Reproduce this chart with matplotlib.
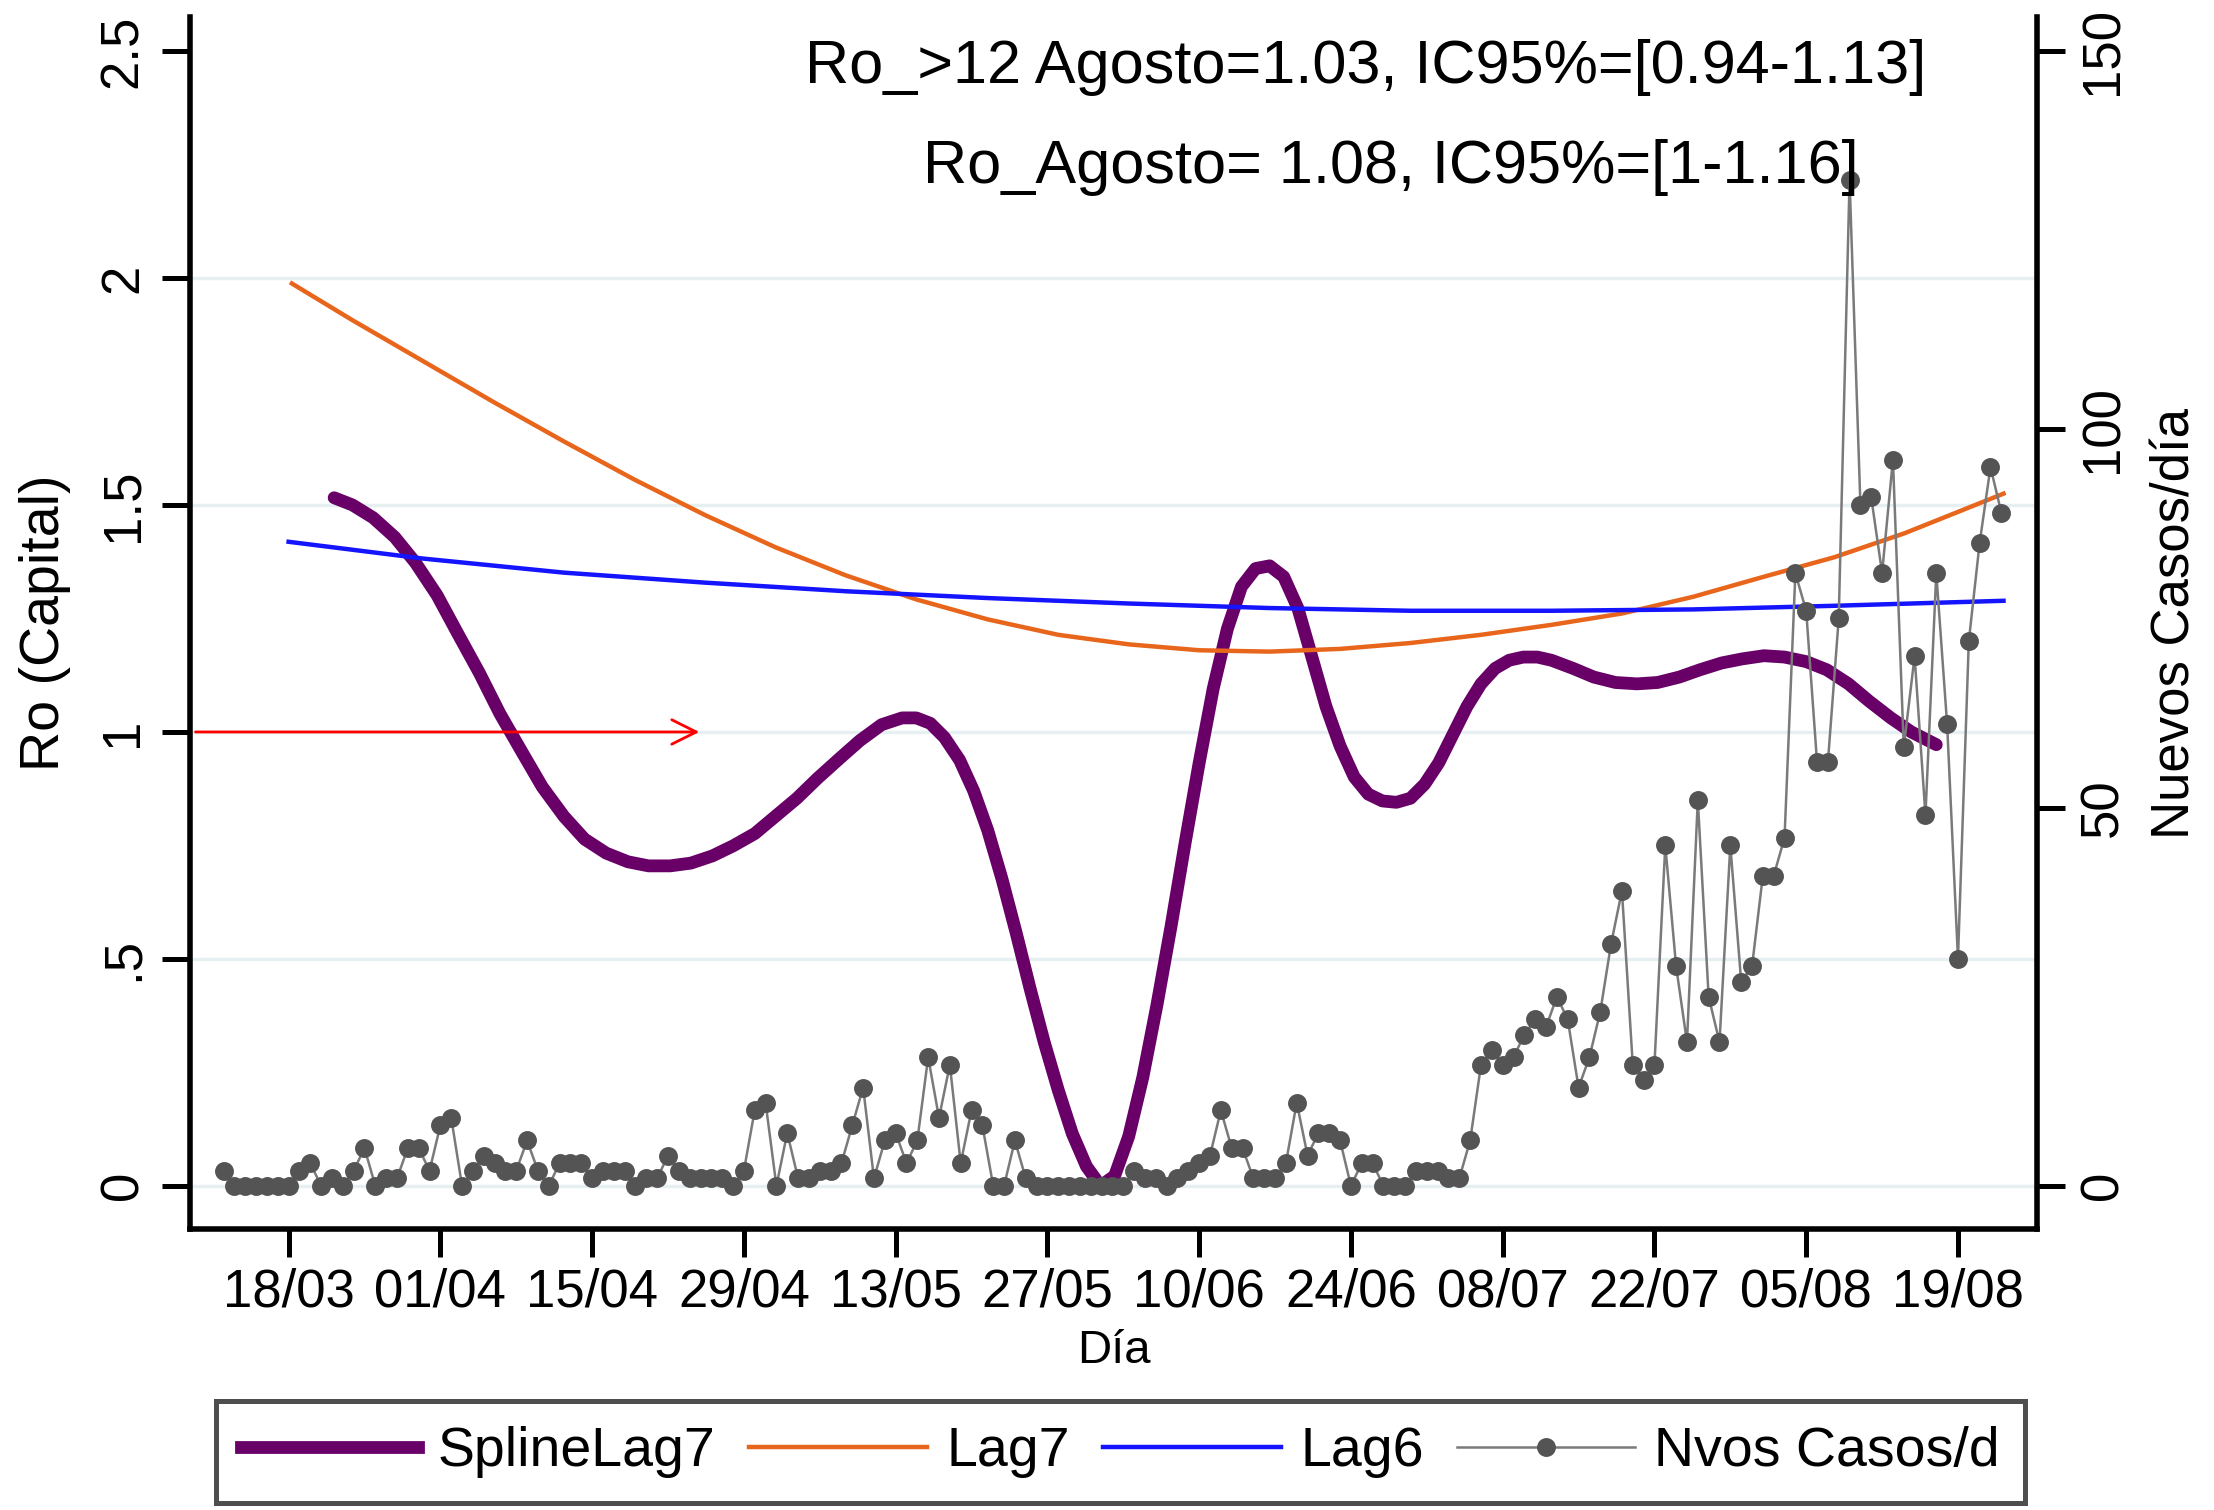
import matplotlib
matplotlib.use('Agg')
import matplotlib.pyplot as plt
import numpy as np
import pandas as pd
from matplotlib.lines import Line2D

plt.rcParams.update({
    'font.family': ['Liberation Sans', 'DejaVu Sans'],
    'axes.linewidth': 2.0,
    'xtick.major.width': 1.8,
    'ytick.major.width': 1.8,
    'xtick.major.size': 10,
    'ytick.major.size': 10,
})

# ---- data ----
base_date = pd.Timestamp('2020-03-18')
first_case_date = '2020-03-12'
# new cases per day, 12/03 .. 23/08
cases = [2, 0, 0, 0, 0, 0, 0,
         2, 3, 0, 1, 0, 2, 5, 0, 1, 1,
         5, 5, 2, 8, 9, 0, 2, 4, 3, 2,
         2, 6, 2, 0, 3, 3, 3, 1, 2, 2,
         2, 0, 1, 1, 4, 2, 1, 1, 1, 1,
         0, 2, 10, 11, 0, 7, 1, 1, 2, 2,
         3, 8, 13, 1, 6, 7, 3, 6, 17, 9,
         16, 3, 10, 8, 0, 0, 6, 1, 0, 0,
         0, 0, 0, 0, 0, 0, 0, 2, 1, 1,
         0, 1, 2, 3, 4, 10, 5, 5, 1, 1,
         1, 3, 11, 4, 7, 7, 6, 0, 3, 3,
         0, 0, 0, 2, 2, 2, 1, 1, 6, 16,
         18, 16, 17, 20, 22, 21, 25, 22, 13, 17,
         23, 32, 39, 16, 14, 16, 45, 29, 19, 51,
         25, 19, 45, 27, 29, 41, 41, 46, 81, 76,
         56, 56, 75, 133, 90, 91, 81, 96, 58, 70,
         49, 81, 61, 30, 72, 85, 95, 89]

# Ro curves, x = days since 18/03
spline_day = [4.2, 5.9, 7.8, 9.8, 11.7, 13.7, 15.6, 17.6, 19.5, 21.5, 23.4, 25.4,
              27.3, 29.3, 31.3, 33.2, 35.2, 37.1, 39.1, 41.0, 43.0, 44.9, 46.9, 48.8,
              50.8, 52.7, 54.7, 56.6, 57.9, 59.2, 60.5, 61.9, 63.2, 64.5, 65.8, 67.1,
              68.4, 69.7, 71.0, 72.3, 73.6, 74.9, 76.2, 77.5, 78.8, 80.1, 81.4, 82.7,
              84.0, 85.3, 86.6, 87.9, 89.2, 90.5, 91.8, 93.1, 94.4, 95.7, 97.0, 98.3,
              99.6, 100.9, 102.2, 103.5, 104.8, 106.1, 107.4, 108.7, 110.0, 111.3, 112.6,
              113.9, 115.2, 116.5, 118.5, 120.4, 122.4, 124.4, 126.3, 128.3, 130.2,
              132.2, 134.1, 136.1, 138.0, 140.0, 141.9, 143.9, 145.8, 147.8, 149.7, 152.0]
spline_ro = [1.516, 1.500, 1.472, 1.429, 1.373, 1.301, 1.217, 1.130, 1.040, 0.957, 0.879, 0.814,
             0.764, 0.733, 0.714, 0.705, 0.705, 0.711, 0.727, 0.749, 0.776, 0.814, 0.854, 0.898,
             0.941, 0.981, 1.016, 1.031, 1.031, 1.019, 0.988, 0.938, 0.870, 0.783, 0.677, 0.559,
             0.435, 0.317, 0.211, 0.115, 0.043, 0.000, 0.022, 0.109, 0.239, 0.398, 0.571, 0.755,
             0.932, 1.096, 1.227, 1.320, 1.360, 1.366, 1.342, 1.273, 1.165, 1.056, 0.969, 0.901,
             0.863, 0.848, 0.845, 0.854, 0.885, 0.932, 0.994, 1.056, 1.106, 1.140, 1.158,
             1.165, 1.165, 1.158, 1.140, 1.121, 1.109, 1.106, 1.109, 1.121, 1.137,
             1.152, 1.161, 1.168, 1.165, 1.155, 1.137, 1.106, 1.068, 1.031, 1.000, 0.972]

lag7_day = [0.3, 5.9, 12.4, 18.9, 25.4, 31.9, 38.4, 44.9, 51.4, 57.9, 64.5, 71.0, 77.5,
            84.0, 90.5, 97.0, 103.5, 110.0, 116.5, 123.0, 129.6, 136.1, 142.6, 149.1,
            153.6, 158.2]
lag7_ro = [1.988, 1.907, 1.817, 1.727, 1.640, 1.556, 1.478, 1.407, 1.345, 1.292, 1.248, 1.214,
           1.193, 1.180, 1.177, 1.183, 1.196, 1.214, 1.236, 1.261, 1.298, 1.342, 1.385, 1.438,
           1.481, 1.525]

lag6_day = [0, 12.4, 25.4, 38.4, 51.4, 64.5, 77.5, 90.5, 103.5, 116.5, 129.6, 142.6, 158.2]
lag6_ro = [1.419, 1.382, 1.351, 1.329, 1.31, 1.295, 1.283, 1.273, 1.267, 1.267, 1.27, 1.278, 1.289]

arrow_end_day = 38.4
tick_dates = ['2020-03-18', '2020-04-01', '2020-04-15', '2020-04-29', '2020-05-13',
              '2020-05-27', '2020-06-10', '2020-06-24', '2020-07-08', '2020-07-22',
              '2020-08-05', '2020-08-19']
tick_labels = ['18/03', '01/04', '15/04', '29/04', '13/05', '27/05', '10/06',
               '24/06', '08/07', '22/07', '05/08', '19/08']
note1 = 'Ro_>12 Agosto=1.03, IC95%=[0.94-1.13]'
note2 = 'Ro_Agosto= 1.08, IC95%=[1-1.16]'

case_x = (pd.date_range(first_case_date, periods=len(cases)) - base_date).days
tick_x = (pd.to_datetime(tick_dates) - base_date).days

PURPLE = '#680068'
ORANGE = '#e8651c'
BLUE = '#1414ff'
GRID = '#e6eff1'
GRAY_LINE = '#7a7a7a'
GRAY_DOT = '#545454'

fig = plt.figure(figsize=(11.07, 7.55), dpi=200)
ax = fig.add_axes([0.0858, 0.1861, 0.8343, 0.8026])
ax2 = ax.twinx()

# grid
for g in [0, 0.5, 1, 1.5, 2]:
    ax.axhline(g, color=GRID, lw=1.2, zorder=0)

ax.plot(spline_day, spline_ro, color=PURPLE, lw=4.6, solid_capstyle='round',
        solid_joinstyle='round', zorder=3)
ax.plot(lag7_day, lag7_ro, color=ORANGE, lw=1.6, solid_joinstyle='round', zorder=3)
ax.plot(lag6_day, lag6_ro, color=BLUE, lw=1.6, zorder=3)
ax.annotate('', xy=(arrow_end_day, 1), xytext=(-9.1, 1),
            arrowprops=dict(arrowstyle='->', color='red', lw=1.0, mutation_scale=22))

ax2.plot(case_x, cases, color=GRAY_LINE, lw=0.9, marker='o', markersize=5.8,
         markerfacecolor=GRAY_DOT, markeredgecolor=GRAY_DOT)

ax.set_xlim(-9.1, 161.3)
ax.set_ylim(-0.095, 2.575)
ax2.set_ylim(-0.095 * 60, 2.575 * 60)

ax.set_xticks(tick_x)
ax.set_xticklabels(tick_labels, fontsize=19)
ax.set_yticks([0, 0.5, 1, 1.5, 2, 2.5])
ax.set_yticklabels(['0', '.5', '1', '1.5', '2', '2.5'], fontsize=19, rotation=90, va='center')
ax2.set_yticks([0, 50, 100, 150])
ax2.set_yticklabels(['0', '50', '100', '150'], fontsize=19, rotation=90, va='center')
ax.tick_params(axis='x', pad=4)
ax.tick_params(axis='y', pad=5)
ax2.tick_params(axis='y', pad=5)

ax.set_xlabel('Día', fontsize=17, labelpad=4)
ax.set_ylabel('Ro (Capital)', fontsize=20, labelpad=10)
ax2.set_ylabel('Nuevos Casos/día', fontsize=19, labelpad=8, rotation=90)

ax.spines['top'].set_visible(False)
ax.spines['right'].set_visible(False)
ax2.spines['top'].set_visible(False)
ax2.spines['left'].set_visible(False)
ax2.spines['bottom'].set_visible(False)

fig.text(0.617, 0.955, note1, fontsize=22, ha='center', va='center')
fig.text(0.628, 0.889, note2, fontsize=22, ha='center', va='center')

handles = [
    Line2D([], [], color=PURPLE, lw=4.6),
    Line2D([], [], color=ORANGE, lw=1.6),
    Line2D([], [], color=BLUE, lw=1.6),
    Line2D([], [], color=GRAY_LINE, lw=0.9, marker='o', markersize=5.8,
           markerfacecolor=GRAY_DOT, markeredgecolor=GRAY_DOT),
]
labels = ['SplineLag7', 'Lag7', 'Lag6', 'Nvos Casos/d']
leg = fig.legend(handles, labels, loc='center', bbox_to_anchor=(0.506, 1 - 1452 / 1510),
                 ncol=4, frameon=True, fancybox=False, edgecolor='#222222', fontsize=20,
                 handlelength=3.2, handletextpad=0.35, columnspacing=0.6, borderpad=0.45)
leg.get_frame().set_linewidth(1.8)

fig.savefig('out.png', dpi=200, facecolor='white')
